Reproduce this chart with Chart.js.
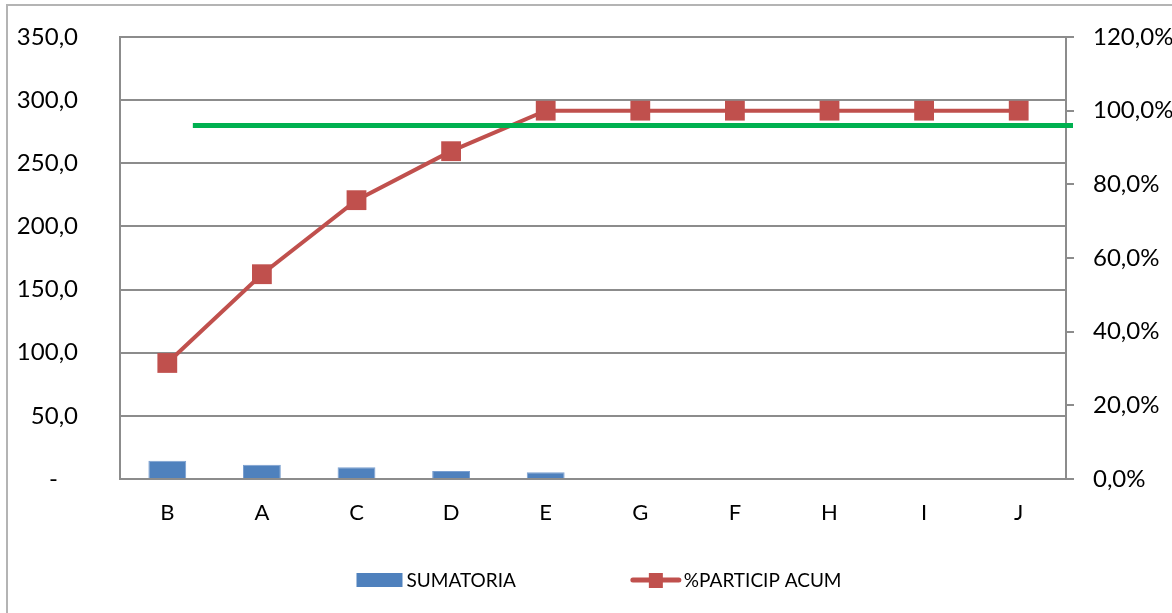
<!DOCTYPE html>
<html>
<head>
<meta charset="utf-8">
<title>Pareto</title>
<script src="https://cdn.jsdelivr.net/npm/chart.js@4/dist/chart.umd.min.js"></script>
<style>
  html, body { margin: 0; padding: 0; background: #fff; }
  #wrap { width: 1172px; height: 613px; }
</style>
</head>
<body>
<div id="wrap"><canvas id="grafico" width="1172" height="613"></canvas></div>
<script>
  // datos
  var categorias = ['B', 'A', 'C', 'D', 'E', 'G', 'F', 'H', 'I', 'J'];
  var sumatoria = [14.5, 11.3, 9.3, 6.3, 5.3, 0, 0, 0, 0, 0];
  var participAcum = [31.5, 55.6, 75.7, 89.0, 100, 100, 100, 100, 100, 100];
  var ticksIzq = [0, 50, 100, 150, 200, 250, 300, 350];
  var ticksDer = [0, 20, 40, 60, 80, 100, 120];
  var metaPct = 96;

  var FUENTE = 'Lato, "Liberation Sans", sans-serif';
  var AZUL = '#4f81bd';
  var ROJO = '#c0504d';
  var VERDE = '#00b050';
  var GRIS = '#8c8c8c';

  function coma(v) {
    return v.toFixed(1).replace('.', ',');
  }

  // marco exterior del objeto grafico
  var marco = {
    id: 'marco',
    beforeDraw: function(chart) {
      var ctx = chart.ctx;
      ctx.save();
      ctx.fillStyle = '#fff';
      ctx.fillRect(0, 0, chart.width, chart.height);
      ctx.strokeStyle = '#b4b4b4';
      ctx.lineWidth = 2;
      ctx.strokeRect(7, 5, chart.width + 50, chart.height + 50);
      ctx.restore();
    }
  };

  // linea verde de referencia (meta)
  var lineaMeta = {
    id: 'lineaMeta',
    afterDatasetsDraw: function(chart) {
      var x = chart.scales.x;
      var y = chart.scales.yDer.getPixelForValue(metaPct);
      var paso = x.getPixelForValue(1) - x.getPixelForValue(0);
      var ctx = chart.ctx;
      ctx.save();
      ctx.strokeStyle = VERDE;
      ctx.lineWidth = 5;
      ctx.beginPath();
      ctx.moveTo(x.getPixelForValue(0) + paso * 0.27, y);
      ctx.lineTo(chart.chartArea.right + 7, y);
      ctx.stroke();
      ctx.restore();
    }
  };

  // leyenda dibujada a mano para respetar las separaciones
  var leyenda = {
    id: 'leyenda',
    afterDraw: function(chart) {
      var ctx = chart.ctx;
      var cy = 580;
      ctx.save();
      ctx.font = '19px ' + FUENTE;
      ctx.textBaseline = 'middle';
      ctx.fillStyle = '#000';
      var t1 = chart.data.datasets[0].label;
      var t2 = chart.data.datasets[1].label;
      var w1 = ctx.measureText(t1).width;
      var w2 = ctx.measureText(t2).width;
      var total = 46 + 4 + w1 + 115 + 50 + 3 + w2;
      var x = (chart.chartArea.left + chart.chartArea.right) / 2 - total / 2 + 6;
      ctx.fillStyle = AZUL;
      ctx.fillRect(x, cy - 7, 46, 14);
      x += 50;
      ctx.fillStyle = '#000';
      ctx.fillText(t1, x, cy + 1);
      x += w1 + 115;
      ctx.strokeStyle = ROJO;
      ctx.lineWidth = 5;
      ctx.lineCap = 'round';
      ctx.beginPath();
      ctx.moveTo(x + 2, cy);
      ctx.lineTo(x + 48, cy);
      ctx.stroke();
      ctx.fillStyle = ROJO;
      ctx.fillRect(x + 18, cy - 7, 14, 15);
      x += 53;
      ctx.fillStyle = '#000';
      ctx.fillText(t2, x, cy + 1);
      ctx.restore();
    }
  };

  var ctx = document.getElementById('grafico').getContext('2d');
  var grafico = new Chart(ctx, {
    type: 'bar',
    data: {
      labels: categorias,
      datasets: [{
        type: 'bar',
        label: 'SUMATORIA',
        data: sumatoria,
        backgroundColor: AZUL,
        borderColor: '#7a9fd0',
        borderWidth: 1,
        barPercentage: 0.4,
        categoryPercentage: 1,
        yAxisID: 'yIzq',
        order: 2
      }, {
        type: 'line',
        label: '%PARTICIP ACUM',
        data: participAcum,
        borderColor: ROJO,
        backgroundColor: ROJO,
        borderWidth: 4,
        pointStyle: 'rect',
        pointRadius: 14,
        pointBorderWidth: 0,
        tension: 0,
        yAxisID: 'yDer',
        order: 1
      }]
    },
    options: {
      responsive: false,
      devicePixelRatio: 1,
      animation: false,
      layout: { padding: { top: 37, left: 0, right: 0, bottom: 64 } },
      plugins: {
        legend: { display: false },
        tooltip: { enabled: false }
      },
      scales: {
        x: {
          grid: { display: false, drawTicks: false },
          border: { display: true, color: GRIS, width: 2 },
          ticks: { color: '#000', font: { family: FUENTE, size: 22 }, padding: 21 },
          afterFit: function(s) { s.height = 70; }
        },
        yIzq: {
          position: 'left',
          min: 0,
          max: 350,
          afterBuildTicks: function(s) { s.ticks = ticksIzq.map(function(v) { return { value: v }; }); },
          grid: { color: GRIS, lineWidth: 2, drawTicks: true, tickLength: 42, tickColor: 'rgba(0,0,0,0)' },
          border: { display: true, color: GRIS, width: 2 },
          ticks: {
            color: '#000',
            font: { family: FUENTE, size: 24 },
            padding: 0,
            callback: function(v) { return v === 0 ? '-\u2007 ' : coma(v); }
          },
          afterFit: function(s) { s.width = 120; }
        },
        yDer: {
          position: 'right',
          min: 0,
          max: 120,
          afterBuildTicks: function(s) { s.ticks = ticksDer.map(function(v) { return { value: v }; }); },
          grid: { drawOnChartArea: false, color: GRIS, lineWidth: 2, tickLength: 8 },
          border: { display: true, color: GRIS, width: 2 },
          ticks: {
            color: '#000',
            font: { family: FUENTE, size: 24 },
            padding: 19,
            callback: function(v) { return coma(v) + '%'; }
          },
          afterFit: function(s) { s.width = 106; }
        }
      }
    },
    plugins: [marco, lineaMeta, leyenda]
  });
</script>
</body>
</html>
